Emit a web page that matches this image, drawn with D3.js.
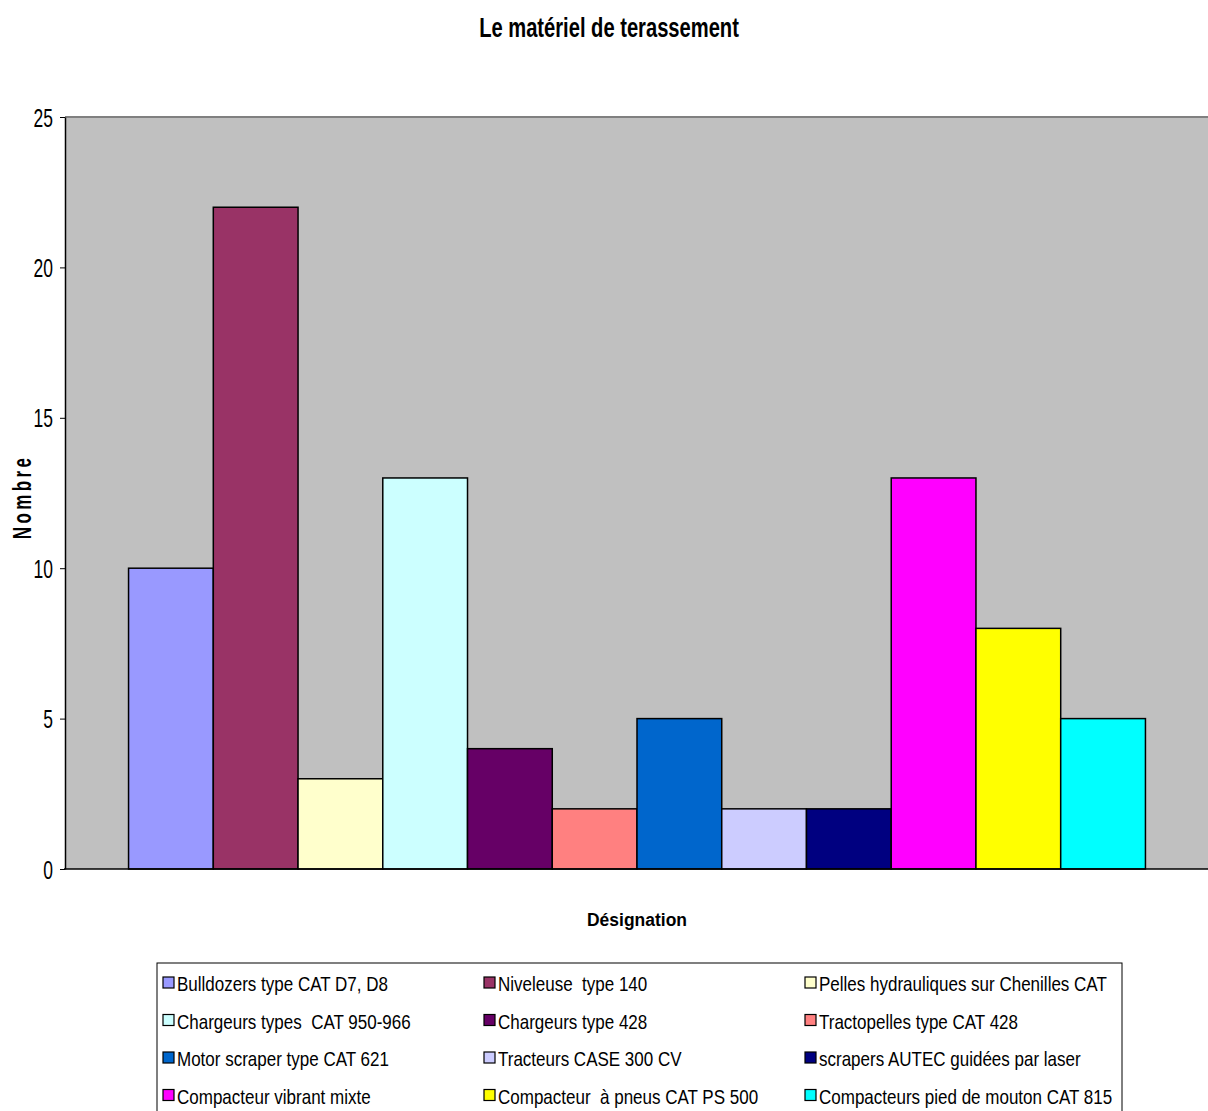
<!DOCTYPE html>
<html>
<head>
<meta charset="utf-8">
<script src="https://cdn.jsdelivr.net/npm/d3@7"></script>
<style>
  body { margin: 0; background: #fff; }
  text { font-family: "Liberation Sans", Arial, sans-serif; }
</style>
</head>
<body>
<svg id="chart" width="1208" height="1111"></svg>
<script>
const categories = [
  'Bulldozers type CAT D7, D8',
  'Niveleuse  type 140',
  'Pelles hydrauliques sur Chenilles CAT',
  'Chargeurs types  CAT 950-966',
  'Chargeurs type 428',
  'Tractopelles type CAT 428',
  'Motor scraper type CAT 621',
  'Tracteurs CASE 300 CV',
  'scrapers AUTEC guidées par laser',
  'Compacteur vibrant mixte',
  'Compacteur  à pneus CAT PS 500',
  'Compacteurs pied de mouton CAT 815'
]
const values = [10, 22, 3, 13, 4, 2, 5, 2, 2, 13, 8, 5]
const colors = ['#9999FF', '#993366', '#FFFFCC', '#CCFFFF', '#660066', '#FF8080',
  '#0066CC', '#CCCCFF', '#000080', '#FF00FF', '#FFFF00', '#00FFFF']
const yTicks = [0, 5, 10, 15, 20, 25]

const svg = d3.select('#chart')
const plot = {left: 65, right: 1209, top: 117, bottom: 869}

// the original fonts look tall and narrow, so squeeze text horizontally
function textAt(x, y, sx, extra) {
  return `translate(${x},${y})${extra || ''} scale(${sx},1)`
}

const x = d3.scaleBand()
  .domain(categories)
  .range([plot.left, plot.right])
  .paddingInner(0)
  .paddingOuter(0.75)

const y = d3.scaleLinear()
  .domain([0, 25])
  .range([plot.bottom, plot.top])

// plot background
svg.append('rect')
  .attr('x', plot.left)
  .attr('y', plot.top)
  .attr('width', plot.right - plot.left)
  .attr('height', plot.bottom - plot.top)
  .attr('fill', '#C0C0C0')
svg.append('line')
  .attr('x1', plot.left).attr('x2', plot.right)
  .attr('y1', plot.top).attr('y2', plot.top)
  .attr('stroke', '#808080').attr('stroke-width', 2)

// bars
svg.selectAll('.bar')
  .data(categories)
  .enter()
  .append('rect')
  .attr('class', 'bar')
  .attr('x', d => x(d))
  .attr('y', (d, i) => y(values[i]))
  .attr('width', x.bandwidth())
  .attr('height', (d, i) => y(0) - y(values[i]))
  .attr('fill', (d, i) => colors[i])
  .attr('stroke', '#000')
  .attr('stroke-width', 1.5)

// y axis
const yAxis = d3.axisLeft(y)
  .tickValues(yTicks)
  .tickSize(5)
  .tickSizeOuter(0)
const gy = svg.append('g')
  .attr('transform', `translate(${plot.left},0)`)
  .call(yAxis)
gy.select('.domain').attr('stroke', '#000').attr('stroke-width', 1.5)
gy.selectAll('.tick line').attr('stroke', '#000')
gy.selectAll('.tick text')
  .attr('x', null)
  .attr('dy', null)
  .attr('transform', textAt(-12, 9, 0.7))
  .attr('fill', '#000')
  .style('font-size', '25px')

// bottom axis line
svg.append('line')
  .attr('x1', plot.left - 1).attr('x2', plot.right)
  .attr('y1', plot.bottom).attr('y2', plot.bottom)
  .attr('stroke', '#000').attr('stroke-width', 1.5)

// titles
svg.append('text')
  .attr('transform', textAt(609, 37, 0.72))
  .attr('text-anchor', 'middle')
  .style('font-size', '28px').style('font-weight', 'bold')
  .text('Le matériel de terassement')

svg.append('text')
  .attr('transform', textAt(637, 926, 0.92))
  .attr('text-anchor', 'middle')
  .style('font-size', '19px').style('font-weight', 'bold')
  .text('Désignation')

svg.append('text')
  .attr('transform', textAt(31, 497, 0.68, ' rotate(-90)'))
  .attr('text-anchor', 'middle')
  .style('font-size', '25px').style('font-weight', 'bold')
  .style('letter-spacing', '5px')
  .text('Nombre')

// legend
const legend = {x: 157, y: 963, w: 965, h: 160, rowH: 37.5, colW: 321}
svg.append('rect')
  .attr('x', legend.x).attr('y', legend.y)
  .attr('width', legend.w).attr('height', legend.h)
  .attr('fill', '#fff').attr('stroke', '#000').attr('stroke-width', 1)

const items = svg.selectAll('.legend-item')
  .data(categories)
  .enter()
  .append('g')
  .attr('class', 'legend-item')
  .attr('transform', (d, i) => `translate(${legend.x + 6 + (i % 3) * legend.colW},${legend.y + 20 + Math.floor(i / 3) * legend.rowH})`)

items.append('rect')
  .attr('x', 0).attr('y', -6)
  .attr('width', 11).attr('height', 11)
  .attr('fill', (d, i) => colors[i])
  .attr('stroke', '#000').attr('stroke-width', 1.2)

items.append('text')
  .attr('transform', textAt(14, 8, 0.81))
  .style('font-size', '21px')
  .style('white-space', 'pre')
  .text(d => d)
</script>
</body>
</html>
